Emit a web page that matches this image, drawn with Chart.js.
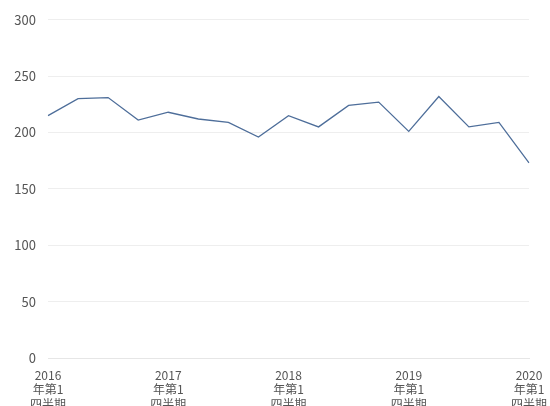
<!DOCTYPE html>
<html><head><meta charset="utf-8">
<script src="https://cdn.jsdelivr.net/npm/chart.js@4"></script>
<style>html,body{margin:0;padding:0;background:#fff}#w{width:550px;height:406px}</style>
</head><body><div id="w"><canvas id="c"></canvas></div>
<script>
const categories = ["2016Q1","2016Q2","2016Q3","2016Q4","2017Q1","2017Q2","2017Q3","2017Q4","2018Q1","2018Q2","2018Q3","2018Q4","2019Q1","2019Q2","2019Q3","2019Q4","2020Q1"];
const values = [215,230,231,211,218,212,209,196,215,205,224,227,201,232,205,209,173];
const tickLabels = {"2016Q1":["2016","年第1","四半期"],"2017Q1":["2017","年第1","四半期"],"2018Q1":["2018","年第1","四半期"],"2019Q1":["2019","年第1","四半期"],"2020Q1":["2020","年第1","四半期"]};
const yTicks = [0,50,100,150,200,250,300];
Chart.defaults.font.family = "'Noto Sans CJK JP','Noto Sans',sans-serif";
new Chart(document.getElementById('c'), {
  type: 'line',
  data: { labels: categories, datasets: [{ data: values, borderColor: '#4e6e9a', borderWidth: 1.3, pointRadius: 0, tension: 0, fill: false }] },
  options: {
    responsive: true, maintainAspectRatio: false, animation: false,
    layout: { padding: { left: 0, right: 21, top: 0, bottom: 0 } },
    plugins: { legend: { display: false }, tooltip: { enabled: false } },
    scales: {
      x: { offset: false, grid: { display: false }, border: { color: '#e6e6e6' },
           afterFit: s => { s.height = 48; },
           ticks: { autoSkip: false, maxRotation: 0, color: '#555', padding: 2, font: { size: 12, lineHeight: 1.2 },
                    callback: (v, i) => tickLabels[categories[i]] || '' } },
      y: { min: 0, max: 300, grid: { color: '#eeeeee', drawTicks: false }, border: { display: false },
           afterFit: s => { s.width = 48; },
           afterBuildTicks: a => { a.ticks = yTicks.map(v => ({ value: v })); },
           ticks: { color: '#555', font: { size: 13 }, padding: 12 } }
    }
  }
});
</script></body></html>
